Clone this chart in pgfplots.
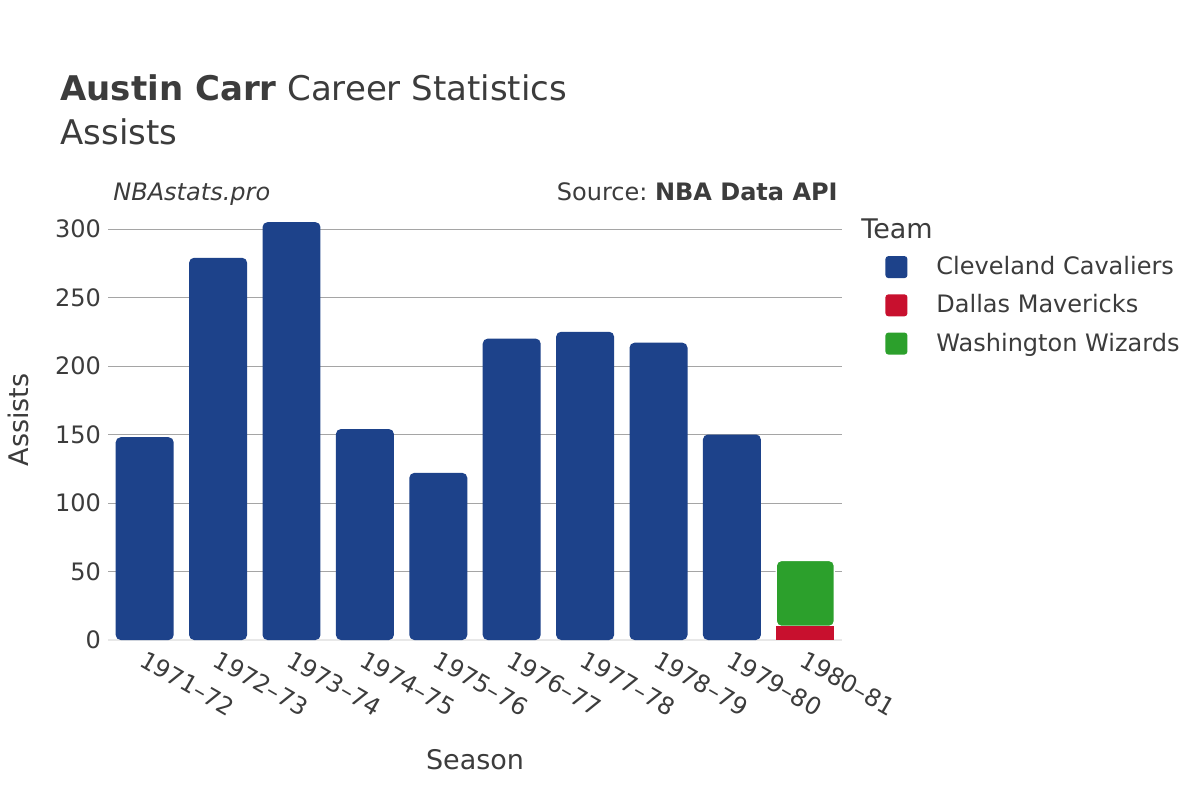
\documentclass[border=0pt]{standalone}
\usepackage{fontspec}
\setmainfont{DejaVu Sans}
\usepackage{pgfplots}
\pgfplotsset{compat=1.18}

\definecolor{cavs}{RGB}{29,66,138}
\definecolor{mavs}{RGB}{200,16,46}
\definecolor{wiz}{RGB}{44,160,44}
\definecolor{txt}{RGB}{60,60,60}
\definecolor{gridc}{RGB}{165,165,165}
\definecolor{zeroc}{RGB}{232,232,232}

\begin{document}
\begin{tikzpicture}
\fill[white] (0,0) rectangle (600pt,400pt);
\path[use as bounding box] (0,0) rectangle (600pt,400pt);

% titles
\node[anchor=base west, font=\fontsize{17}{20}\selectfont, text=txt, inner sep=0pt] at (30pt,349.5pt) {\textbf{Austin Carr} Career Statistics};
\node[anchor=base west, font=\fontsize{17}{20}\selectfont, text=txt, inner sep=0pt] at (30pt,327.5pt) {Assists};
\node[anchor=base west, font=\fontsize{12}{14}\selectfont\itshape, text=txt, inner sep=0pt] at (56.5pt,300pt) {NBAstats.pro};
\node[anchor=base east, font=\fontsize{12}{14}\selectfont, text=txt, inner sep=0pt] at (419pt,300pt) {Source:~\textbf{NBA Data API}};
\node[font=\fontsize{13.5}{16}\selectfont, text=txt] at (237.5pt,20pt) {Season};
\node[rotate=90, font=\fontsize{13.5}{16}\selectfont, text=txt] at (9pt,190pt) {Assists};
\node[anchor=base west, font=\fontsize{13.5}{16}\selectfont, text=txt, inner sep=0pt] at (430.5pt,281pt) {Team};

\begin{axis}[
  at={(54pt,80pt)}, anchor=south west, scale only axis,
  width=367pt, height=219.2pt,
  ybar stacked, bar width=0.79,
  xmin=-0.5, xmax=9.5, ymin=0, ymax=320,
  xtick={0,...,9},
  xticklabels={1971–72,1972–73,1973–74,1974–75,1975–76,1976–77,1977–78,1978–79,1979–80,1980–81},
  ytick={50,100,...,300},
  extra y ticks={0}, extra y tick labels={0},
  extra y tick style={grid style={zeroc, line width=1.2pt}},
  axis line style={draw=none}, tick style={draw=none},
  ymajorgrids, grid style={gridc, line width=0.5pt},
  /pgf/number format/assume math mode=true,
  yticklabel style={font=\fontsize{12}{14}\selectfont, text=txt},
  xticklabel style={rotate=-30, anchor=north west, font=\fontsize{12}{14}\selectfont, text=txt},
  legend style={draw=none, fill=none, at={(1.045,0.894)}, anchor=north west,
    font=\fontsize{12}{14}\selectfont, text=txt, row sep=4.5pt,
    /tikz/every even column/.append style={column sep=0pt}},
  legend cell align=left,
]
\addlegendimage{legend image code/.code={\fill[cavs, draw=none, rounded corners=1.5pt] (2pt,-5.5pt) rectangle (13pt,5.5pt); \path[draw=none, fill=none] (0pt,0pt) -- (25.5pt,0pt);}}
\addlegendentry{Cleveland Cavaliers}
\addlegendimage{legend image code/.code={\fill[mavs, draw=none, rounded corners=1.5pt] (2pt,-5.5pt) rectangle (13pt,5.5pt); \path[draw=none, fill=none] (0pt,0pt) -- (25.5pt,0pt);}}
\addlegendentry{Dallas Mavericks}
\addlegendimage{legend image code/.code={\fill[wiz, draw=none, rounded corners=1.5pt] (2pt,-5.5pt) rectangle (13pt,5.5pt); \path[draw=none, fill=none] (0pt,0pt) -- (25.5pt,0pt);}}
\addlegendentry{Washington Wizards}

% Cleveland Cavaliers
\addplot+[forget plot, fill=cavs, draw=none, rounded corners=2.5pt] coordinates {
  (0,148) (1,279) (2,305) (3,154) (4,122) (5,220) (6,225) (7,217) (8,150) (9,0)
};
% Dallas Mavericks
\addplot+[forget plot, fill=mavs, draw=none] coordinates {
  (0,0) (1,0) (2,0) (3,0) (4,0) (5,0) (6,0) (7,0) (8,0) (9,10)
};
% Washington Wizards
\addplot+[forget plot, fill=wiz, draw=white, line width=0.6pt, rounded corners=2.5pt] coordinates {
  (0,0) (1,0) (2,0) (3,0) (4,0) (5,0) (6,0) (7,0) (8,0) (9,48)
};
\end{axis}
\end{tikzpicture}
\end{document}
